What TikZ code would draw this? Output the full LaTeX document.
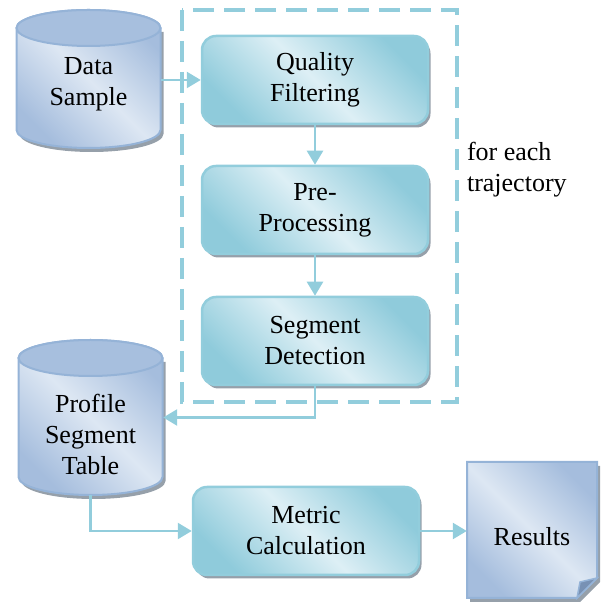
\documentclass[tikz,border=0pt]{standalone}
\usepackage{fontspec}
\setmainfont{Liberation Serif}
\newfontfamily\labelface{Liberation Serif}
\usetikzlibrary{arrows.meta,shadows,calc}

\definecolor{boxline}{RGB}{146,205,220}
\definecolor{boxdark}{RGB}{143,203,219}
\definecolor{boxlight}{RGB}{221,239,245}
\definecolor{cylline}{RGB}{149,179,215}
\definecolor{cyltop}{RGB}{167,191,222}
\definecolor{cyldark}{RGB}{165,189,221}
\definecolor{cyllight}{RGB}{221,231,243}
\definecolor{shadowc}{RGB}{150,160,170}
\definecolor{foldc}{RGB}{120,145,180}

\tikzset{
  lbl/.style={font=\labelface\fontsize{26}{31}\selectfont, align=center},
  procbox/.style={lbl, draw=boxline, line width=2.5pt, rounded corners=14pt,
    minimum width=226pt, minimum height=88pt, inner sep=0pt,
    top color=boxdark, bottom color=boxdark, middle color=boxlight, shading angle=-45,
    drop shadow={shadow xshift=2.5pt, shadow yshift=-3.5pt, fill=shadowc, opacity=1}},
  anchorbox/.style={draw=none, fill=none, inner sep=0pt},
  conn/.style={draw=boxline, line width=2.5pt},
  flow/.style={conn, -{Triangle[width=16pt,length=14pt]}},
  cylbody/.style={draw=cylline, line width=2pt,
    top color=cyldark, bottom color=cyldark, middle color=cyllight, shading angle=-45},
}

% database cylinder: #1 name, #2 centre x, #3 top y, #4 bottom y, #5 label y, #6 label
\newcommand\dbcylinder[6]{%
  \fill[shadowc] ({#2-72+3},{#3-18-4}) -- ({#2-72+3},{#4+18-4})
    arc[start angle=180,end angle=360,x radius=72,y radius=18]
    -- ({#2+72+3},{#3-18-4}) -- cycle;
  \path[cylbody] ({#2-72},{#3-18}) -- ({#2-72},{#4+18})
    arc[start angle=180,end angle=360,x radius=72,y radius=18]
    -- ({#2+72},{#3-18})
    arc[start angle=0,end angle=180,x radius=72,y radius=18] -- cycle;
  \filldraw[fill=cyltop, draw=cylline, line width=2pt]
    (#2,{#3-18}) ellipse[x radius=72, y radius=18];
  \node[anchorbox, minimum width=145pt, minimum height={(#3-#4)*1pt}]
    (#1) at (#2,{(#3+#4)/2}) {};
  \node[lbl] at (#2,#5) {#6};
}

\begin{document}
\begin{tikzpicture}[x=1pt,y=1pt]
\useasboundingbox (0,0) rectangle (601,607);

% loop region for each trajectory
\draw[boxline, line width=3.5pt, dash pattern=on 21pt off 10pt]
  (182,597) rectangle (457,205);
\node[lbl, anchor=base west, align=left] (loop) at (463.5,415)
  {for each\\trajectory};

% data stores
\dbcylinder{ds}{88.5}{597}{459}{523}{Data\\Sample}
\dbcylinder{pst}{90.5}{267}{112}{173}{Profile\\Segment\\Table}

% processing steps
\node[procbox] (qf) at (315,527) {Quality\\Filtering};
\node[procbox] (pp) at (315,397) {Pre-\\Processing};
\node[procbox] (sd) at (315,266) {Segment\\Detection};
\node[procbox] (mc) at (306,76) {Metric\\Calculation};

% results document with folded corner
\fill[shadowc] (470,141) -- (600,141) -- (600,25) -- (580,5) -- (470,5) -- cycle;
\path[draw=cylline, line width=2pt, top color=cyldark, bottom color=cyldark,
  middle color=cyllight, shading angle=-45]
  (467,145) -- (597,145) -- (597,29) -- (577,9) -- (467,9) -- cycle;
\filldraw[fill=foldc, draw=cylline, line width=1.5pt]
  (597,29) -- (580,25) -- (577,9) -- cycle;
\node[anchorbox, minimum width=130pt, minimum height=136pt] (res) at (532,77) {};
\node[lbl] at (532,70) {Results};

% connectors
\draw[flow] (ds.east |- qf.west) -- (qf.west);
\draw[flow] (qf.south) -- (pp.north);
\draw[flow] (pp.south) -- (sd.north);
\draw[flow] (sd.south) |- (pst.east);
\draw[flow] (pst.south) |- (mc.west);
\draw[flow] (mc.east) -- (mc.east -| res.west);
\end{tikzpicture}
\end{document}
